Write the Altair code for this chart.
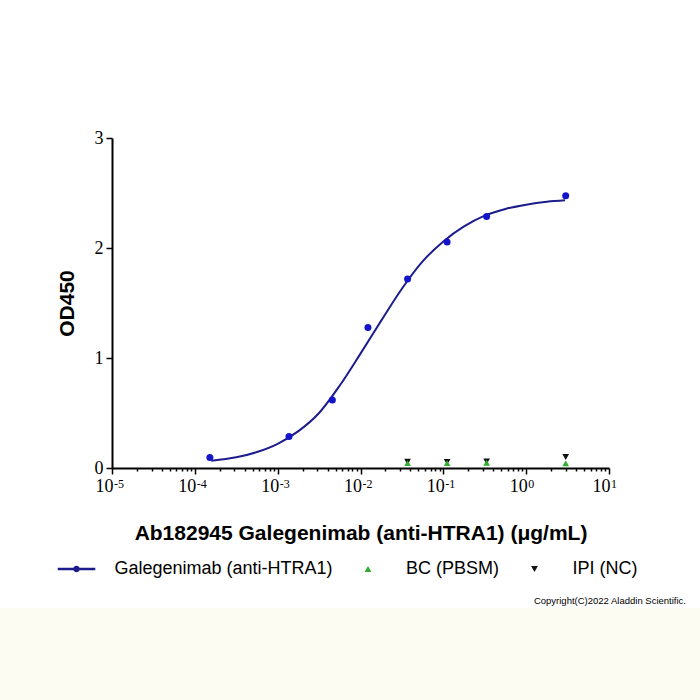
import altair as alt
import pandas as pd

# ---------------- data ----------------
series_names = ["Galegenimab (anti-HTRA1)", "BC (PBSM)", "IPI (NC)"]

conc_gal = [1.52e-4, 1.37e-3, 4.57e-3, 1.23e-2, 3.7e-2, 1.11e-1, 3.33e-1, 3.0]
od_gal = [0.096, 0.287, 0.618, 1.278, 1.718, 2.055, 2.287, 2.475]

conc_ctrl = [3.7e-2, 1.11e-1, 3.33e-1, 3.0]
od_bc = [0.045, 0.045, 0.048, 0.042]
od_ipi = [0.057, 0.055, 0.060, 0.100]

# fitted curve, every quarter decade
fit_conc = [1.58e-4, 3.16e-4, 5.62e-4, 1.0e-3, 1.78e-3, 3.16e-3, 5.62e-3,
            1.0e-2, 1.78e-2, 3.16e-2, 5.62e-2, 1.0e-1, 1.78e-1, 3.16e-1,
            5.62e-1, 1.0, 1.78, 2.95]
fit_od = [0.066, 0.097, 0.145, 0.22, 0.335, 0.50, 0.75,
          1.04, 1.34, 1.63, 1.878, 2.06, 2.196, 2.294,
          2.355, 2.394, 2.42, 2.433]

major_ticks = [1e-5, 1e-4, 1e-3, 1e-2, 1e-1, 1e0, 1e1]
major_base = "10"
major_exponents = ["-5", "-4", "-3", "-2", "-1", "0", "1"]
minor_mult = [2, 3, 4, 5, 6, 7, 8, 9]
y_ticks = [0, 1, 2, 3]

x_title = "Ab182945 Galegenimab (anti-HTRA1) (μg/mL)"
y_title = "OD450"
copyright_text = "Copyright(C)2022 Aladdin Scientific."

colors = ["#1c1c8c", "#2fae2f", "#111111"]
point_blue = "#1414c8"

# ---------------- tables ----------------
df_gal = pd.DataFrame({"conc": conc_gal, "od": od_gal})
df_fit = pd.DataFrame({"conc": fit_conc, "od": fit_od})
df_ctrl = pd.DataFrame({
    "conc": conc_ctrl + conc_ctrl,
    "od": od_ipi + od_bc,
    "series": [series_names[2]] * len(conc_ctrl) + [series_names[1]] * len(conc_ctrl),
})
df_exp = pd.DataFrame({"conc": major_ticks, "exp": major_exponents})

all_ticks = []
for d in major_ticks:
    all_ticks.append(d)
    if d < 10:
        for m in minor_mult:
            all_ticks.append(m * d)

is_major = "abs(log(datum.value)/LN10 - round(log(datum.value)/LN10)) < 0.000001"
label_expr = f"({is_major}) ? '{major_base}' : ''"

x_axis = alt.Axis(
    values=all_ticks,
    labelExpr=label_expr,
    tickSize={"condition": {"test": is_major, "value": 6}, "value": 3},
    title=x_title,
    labelFont="Liberation Serif",
    labelFontSize=18,
    labelColor="black",
    labelPadding=3,
    labelOffset=-8,
    labelOverlap=False,
    labelFlush=False,
    titleFont="Liberation Sans",
    titleFontSize=21,
    titleFontWeight="bold",
    titleColor="black",
    titlePadding=27,
    domainColor="black",
    domainWidth=2,
    tickColor="black",
    tickWidth=1.5,
    grid=False,
)
y_axis = alt.Axis(
    values=y_ticks,
    tickSize=6,
    title=y_title,
    labelFont="Liberation Serif",
    labelFontSize=18,
    labelColor="black",
    labelPadding=3,
    titleFont="Liberation Sans",
    titleFontSize=21,
    titleFontWeight="bold",
    titleColor="black",
    titlePadding=17,
    domainColor="black",
    domainWidth=2,
    tickColor="black",
    tickWidth=1.5,
    grid=False,
)

X = alt.X("conc:Q", scale=alt.Scale(type="log", domain=[1e-5, 10], nice=False), axis=x_axis)
Y = alt.Y("od:Q", scale=alt.Scale(domain=[0, 3], nice=False, zero=True), axis=y_axis)

legend_line_path = ("M-5.6,-0.38H5.6V0.38H-5.6Z "
                    "M1,0A1,1,0,1,1,-1,0A1,1,0,1,1,1,0Z")

legend = alt.Legend(
    title=None,
    orient="none",
    direction="horizontal",
    legendX=-44.5,
    legendY=422,
    labelFont="Liberation Sans",
    labelFontSize=18,
    labelColor="black",
    labelOffset=29,
    labelLimit=400,
    columnPadding=25.5,
    symbolSize=45,
    symbolStrokeWidth=0,
    padding=0,
)

band = alt.Chart(pd.DataFrame({"k": [0]})).mark_rect(color="#fcfcf2").encode(
    x=alt.value(-112), x2=alt.value(588), y=alt.value(470), y2=alt.value(562)
)

curve = alt.Chart(df_fit).mark_line(
    color=colors[0], strokeWidth=2, interpolate="monotone"
).encode(x=X, y=Y)

gal_points = alt.Chart(df_gal).mark_circle(
    color=point_blue, size=49, opacity=1
).encode(x=X, y=Y)

ctrl_points = alt.Chart(df_ctrl).mark_point(filled=True, size=45, opacity=1).encode(
    x=X,
    y=Y,
    color=alt.Color("series:N",
                    scale=alt.Scale(domain=series_names, range=colors),
                    legend=legend),
    shape=alt.Shape("series:N",
                    scale=alt.Scale(domain=series_names,
                                    range=[legend_line_path, "triangle-up", "triangle-down"]),
                    legend=legend),
)

exponents = alt.Chart(df_exp).mark_text(
    align="left", baseline="alphabetic", font="Liberation Serif",
    fontSize=12, color="black", dx=2
).encode(x=X, y=alt.value(350), text="exp:N")

note = alt.Chart(pd.DataFrame({"t": [copyright_text]})).mark_text(
    align="right", baseline="middle", fontSize=9.5,
    font="Liberation Sans", color="black"
).encode(x=alt.value(574), y=alt.value(463), text="t:N")

chart = alt.layer(band, curve, gal_points, ctrl_points, exponents, note).properties(
    width=497,
    height=330,
    autosize=alt.AutoSizeParams(type="none"),
    padding={"left": 112, "top": 138, "right": 91, "bottom": 232},
    background="white",
).configure_view(stroke=None)

chart.save("out.html", embed_options={"renderer": "svg", "actions": False})
